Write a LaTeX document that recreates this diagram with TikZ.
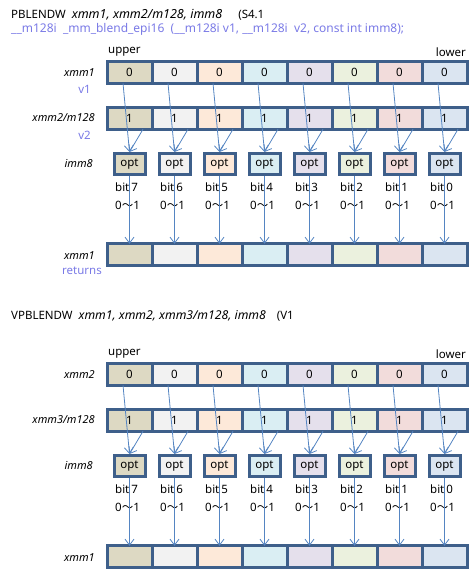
\documentclass[tikz,border=0pt]{standalone}
\usepackage{fontspec}
\setmainfont{Noto Sans}
\newfontfamily\cjkfont{Noto Sans CJK JP}
\usetikzlibrary{arrows.meta,calc}
\definecolor{bordc}{HTML}{3E5F8A}
\definecolor{arrc}{HTML}{5585C2}
\definecolor{protoc}{HTML}{7A7AE6}
\definecolor{c0}{HTML}{DDD9C3}
\definecolor{c1}{HTML}{F2F2F2}
\definecolor{c2}{HTML}{FDE9D9}
\definecolor{c3}{HTML}{DAEEF3}
\definecolor{c4}{HTML}{E5E0EC}
\definecolor{c5}{HTML}{EBF1DE}
\definecolor{c6}{HTML}{F2DCDB}
\definecolor{c7}{HTML}{DBE5F1}
\begin{document}
\begin{tikzpicture}[x=1pt,y=-1pt,
  every node/.style={font=\fontsize{11.5}{13}\selectfont},
  cell/.style={draw=bordc, line width=3pt, minimum width=45pt, minimum height=21.5pt, inner sep=0pt, outer sep=0pt},
  optbox/.style={draw=bordc, line width=3pt, minimum width=31pt, minimum height=21pt, inner sep=0pt},
  lab/.style={anchor=east, inner sep=0pt, font=\fontsize{11}{13}\selectfont\itshape},
  proto/.style={anchor=east, inner sep=0pt, text=protoc},
  plain/.style={anchor=west, inner sep=0pt},
  arr/.style={draw=arrc, line width=0.8pt, -{Straight Barb[length=6pt,width=9pt]}}]
\useasboundingbox (0,0) rectangle (476,573);
% headings
\node[plain] (ttitle) at (11,15) {PBLENDW\hspace{6pt}{\fontsize{12.5}{14}\selectfont\itshape xmm1, xmm2/m128, imm8}\hspace{16pt}(S4.1};
\node[plain, text=protoc, font=\fontsize{12}{14}\selectfont] (tproto) at (11,29) {\_\_m128i\ \ \_mm\_blend\_epi16\ \ (\_\_m128i v1, \_\_m128i\ \ v2, const int imm8);};
\node[plain] (bttitle) at (11,316) {VPBLENDW\hspace{6pt}{\fontsize{12.2}{14}\selectfont\itshape xmm1, xmm2, xmm3/m128, imm8}\hspace{11pt}(V1};
% row labels
\node[lab] (tla) at (95,73) {xmm1};
\node[proto] (tv1) at (91,89) {v1};
\node[lab] (tlb) at (95,118) {xmm2/m128};
\node[proto] (tv2) at (91,135) {v2};
\node[lab] (tlo) at (93,164) {imm8};
\node[lab] (tlc) at (95,256) {xmm1};
\node[proto] (tret) at (102,271) {returns};
\node[lab] (bla) at (95,375) {xmm2};
\node[lab] (blb) at (95,420) {xmm3/m128};
\node[lab] (blo) at (93,466) {imm8};
\node[lab] (blc) at (95,558) {xmm1};
\foreach \s/\dy in {t/0,b/302} {
  \node[plain] (\s-upper) at (108,52+\dy) {upper};
  \node[anchor=east, inner sep=0pt] (\s-lower) at (466,52+\dy) {lower};
  \foreach \i in {0,...,7} {
    \pgfmathsetmacro\cx{129.5+45*\i}
    \pgfmathtruncatemacro\bitn{7-\i}
    \node[cell, fill=c\i] (\s-a\i) at (\cx,72.5+\dy) {0};
    \node[cell, fill=c\i] (\s-b\i) at (\cx,118.5+\dy) {1};
    \node[optbox, fill=c\i] (\s-o\i) at (\cx,164+\dy) {opt};
    \node[plain] (\s-bit\i) at (\cx-14.5,187+\dy) {bit\,\bitn};
    \node[plain] (\s-r\i) at (\cx-14.5,205+\dy) {0{\cjkfont 〜}1};
    \node[cell, fill=c\i] (\s-c\i) at (\cx,254.5+\dy) {};
  }
  \foreach \i in {0,...,7} {
    \draw[arr] ($(\s-a\i.south)+(-6.5,0)$) -- (\s-o\i.north);
    \draw[arr] ($(\s-b\i.south)+(13.5,0)$) -- (\s-o\i.north);
    \draw[arr] (\s-o\i.south) -- (\s-c\i.north);
  }
}
\end{tikzpicture}
\end{document}
